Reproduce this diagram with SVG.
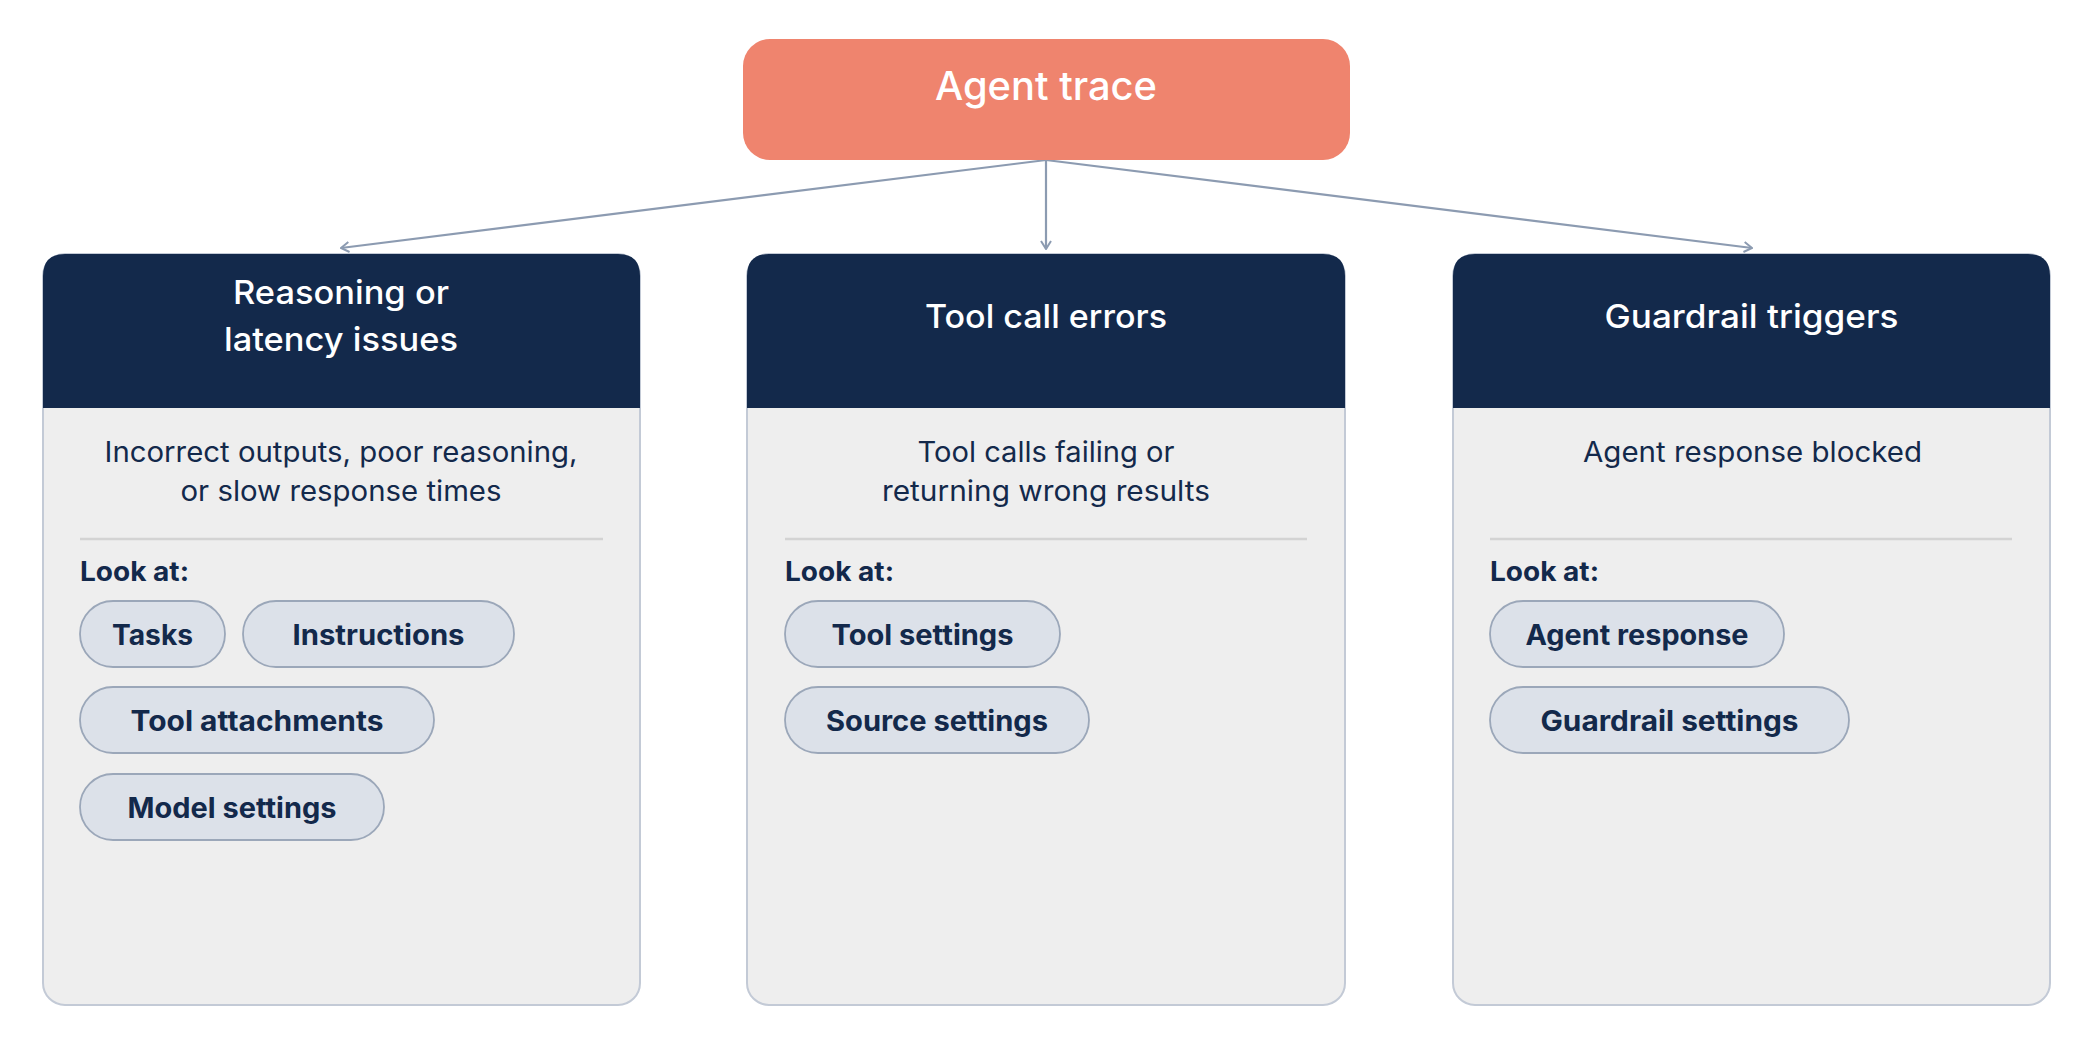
<svg xmlns="http://www.w3.org/2000/svg" width="2096" height="1063" viewBox="0 0 2096 1063">
<defs>
<style>
.bg{fill:#ffffff}
.top{fill:#EF846E}
.card{fill:#EEEEEE;stroke:#C3CAD6;stroke-width:2}
.head{fill:#13294B}
.div{stroke:#D3D3D3;stroke-width:2.5}
.pill{fill:#DCE1E9;stroke:#9BA7B9;stroke-width:1.8}
.conn{fill:none;stroke:#8C9BB1;stroke-width:2.2}
text{font-family:Inter,"Open Sans","Liberation Sans",sans-serif}
.ttl{fill:#ffffff;font-size:39px;font-weight:500;text-anchor:middle}
.hd{fill:#ffffff;font-size:33px;font-weight:500;text-anchor:middle}
.desc{fill:#13294B;font-size:28px;text-anchor:middle}
.look{fill:#13294B;font-size:27px;font-weight:700}
.pt{fill:#13294B;font-size:28px;font-weight:700;text-anchor:middle}
</style>
<marker id="arr" viewBox="0 0 10 12" refX="9" refY="6" markerWidth="10" markerHeight="12" markerUnits="userSpaceOnUse" orient="auto">
<path d="M1,1 L9,6 L1,11" fill="none" stroke="#8C9BB1" stroke-width="2"/>
</marker>
</defs>
<rect class="bg" x="0" y="0" width="2096" height="1063"/>

<g id="connectors">
<line class="conn" x1="1046" y1="160" x2="341" y2="248" marker-end="url(#arr)"/>
<line class="conn" x1="1046" y1="160" x2="1046" y2="249" marker-end="url(#arr)"/>
<line class="conn" x1="1046" y1="160" x2="1752" y2="248" marker-end="url(#arr)"/>
</g>

<g id="agent-trace">
<rect class="top" x="743" y="39" width="607" height="121" rx="27"/>
<text class="ttl" x="1046" y="100" textLength="222" lengthAdjust="spacingAndGlyphs">Agent trace</text>
</g>

<g id="card-reasoning">
<rect class="card" x="43" y="254" width="597" height="751" rx="22"/>
<path class="head" d="M43,408 V276 Q43,254 65,254 H618 Q640,254 640,276 V408 Z"/>
<text class="hd" x="341" y="304" textLength="216" lengthAdjust="spacingAndGlyphs">Reasoning or</text>
<text class="hd" x="341" y="351" textLength="234" lengthAdjust="spacingAndGlyphs">latency issues</text>
<text class="desc" x="341" y="462" textLength="473" lengthAdjust="spacingAndGlyphs">Incorrect outputs, poor reasoning,</text>
<text class="desc" x="341" y="501" textLength="321" lengthAdjust="spacingAndGlyphs">or slow response times</text>
<line class="div" x1="80" y1="539" x2="603" y2="539"/>
<text class="look" x="80" y="581" textLength="109" lengthAdjust="spacingAndGlyphs">Look at:</text>
<g id="pill-tasks"><rect class="pill" x="80" y="601" width="145" height="66" rx="33"/><text class="pt" x="152.5" y="645" textLength="81" lengthAdjust="spacingAndGlyphs">Tasks</text></g>
<g id="pill-instructions"><rect class="pill" x="243" y="601" width="271" height="66" rx="33"/><text class="pt" x="378.5" y="645" textLength="172" lengthAdjust="spacingAndGlyphs">Instructions</text></g>
<g id="pill-tool-attachments"><rect class="pill" x="80" y="687" width="354" height="66" rx="33"/><text class="pt" x="257" y="731" textLength="253" lengthAdjust="spacingAndGlyphs">Tool attachments</text></g>
<g id="pill-model-settings"><rect class="pill" x="80" y="774" width="304" height="66" rx="33"/><text class="pt" x="232" y="818" textLength="209" lengthAdjust="spacingAndGlyphs">Model settings</text></g>
</g>

<g id="card-tool-errors">
<rect class="card" x="747" y="254" width="598" height="751" rx="22"/>
<path class="head" d="M747,408 V276 Q747,254 769,254 H1323 Q1345,254 1345,276 V408 Z"/>
<text class="hd" x="1046" y="328" textLength="242" lengthAdjust="spacingAndGlyphs">Tool call errors</text>
<text class="desc" x="1046" y="462" textLength="257" lengthAdjust="spacingAndGlyphs">Tool calls failing or</text>
<text class="desc" x="1046" y="501" textLength="328" lengthAdjust="spacingAndGlyphs">returning wrong results</text>
<line class="div" x1="785" y1="539" x2="1307" y2="539"/>
<text class="look" x="785" y="581" textLength="109" lengthAdjust="spacingAndGlyphs">Look at:</text>
<g id="pill-tool-settings"><rect class="pill" x="785" y="601" width="275" height="66" rx="33"/><text class="pt" x="922.5" y="645" textLength="182" lengthAdjust="spacingAndGlyphs">Tool settings</text></g>
<g id="pill-source-settings"><rect class="pill" x="785" y="687" width="304" height="66" rx="33"/><text class="pt" x="937" y="731" textLength="222" lengthAdjust="spacingAndGlyphs">Source settings</text></g>
</g>

<g id="card-guardrail">
<rect class="card" x="1453" y="254" width="597" height="751" rx="22"/>
<path class="head" d="M1453,408 V276 Q1453,254 1475,254 H2028 Q2050,254 2050,276 V408 Z"/>
<text class="hd" x="1751.5" y="328" textLength="294" lengthAdjust="spacingAndGlyphs">Guardrail triggers</text>
<text class="desc" x="1752.5" y="462" textLength="339" lengthAdjust="spacingAndGlyphs">Agent response blocked</text>
<line class="div" x1="1490" y1="539" x2="2012" y2="539"/>
<text class="look" x="1490" y="581" textLength="109" lengthAdjust="spacingAndGlyphs">Look at:</text>
<g id="pill-agent-response"><rect class="pill" x="1490" y="601" width="294" height="66" rx="33"/><text class="pt" x="1637" y="645" textLength="223" lengthAdjust="spacingAndGlyphs">Agent response</text></g>
<g id="pill-guardrail-settings"><rect class="pill" x="1490" y="687" width="359" height="66" rx="33"/><text class="pt" x="1669.5" y="731" textLength="258" lengthAdjust="spacingAndGlyphs">Guardrail settings</text></g>
</g>
</svg>
